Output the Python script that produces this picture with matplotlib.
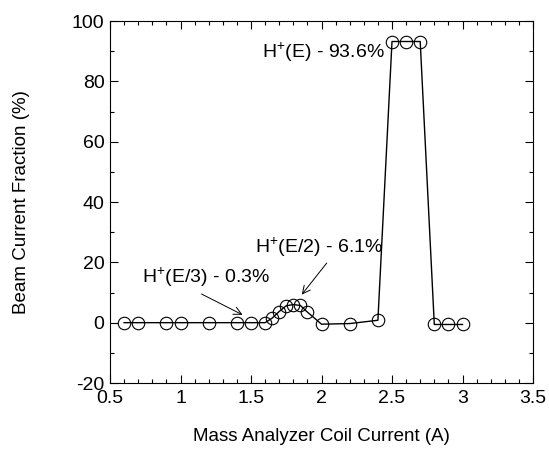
import numpy as np
import matplotlib
matplotlib.use("Agg")
from matplotlib import pyplot as plt
from matplotlib.ticker import MultipleLocator, FuncFormatter

plt.rcParams['font.family'] = ['Liberation Sans', 'DejaVu Sans']
plt.rcParams['mathtext.fontset'] = 'custom'
plt.rcParams['mathtext.rm'] = 'Liberation Sans'
plt.rcParams['axes.unicode_minus'] = False

# coil current (A) and beam current fraction (%)
coil_current = [0.6, 0.7, 0.9, 1.0, 1.2, 1.4, 1.5, 1.6, 1.65, 1.7, 1.75, 1.8,
                1.85, 1.9, 2.0, 2.2, 2.4, 2.5, 2.6, 2.7, 2.8, 2.9, 3.0]
fraction = [0, 0, 0, 0, 0, 0, 0, 0, 1.5, 3.7, 5.6, 6.0,
            5.7, 3.5, -0.5, -0.3, 0.8, 93.2, 93.2, 93.2, -0.6, -0.6, -0.6]

labels = [r'H$\mathregular{^{+}}$(E) - 93.6%',
          r'H$\mathregular{^{+}}$(E/2) - 6.1%',
          r'H$\mathregular{^{+}}$(E/3) - 0.3%']

fig = plt.figure(figsize=(5.49, 4.51), dpi=100)
ax = fig.add_axes([110/549, 1 - 383/451, 423/549, 362/451])

ax.plot(coil_current, fraction, color='black', lw=1.0, marker='o',
        markersize=9, markerfacecolor='none', markeredgecolor='black',
        markeredgewidth=0.8)

ax.set_xlim(0.5, 3.5)
ax.set_ylim(-20, 100)
ax.xaxis.set_major_locator(MultipleLocator(0.5))
ax.xaxis.set_minor_locator(MultipleLocator(0.1))
ax.yaxis.set_major_locator(MultipleLocator(20))
ax.yaxis.set_minor_locator(MultipleLocator(10))
fmt = FuncFormatter(lambda v, p: '%g' % v)
ax.xaxis.set_major_formatter(fmt)
ax.yaxis.set_major_formatter(fmt)
ax.tick_params(which='both', direction='in', top=True, right=True,
               labelsize=14, width=0.8)
ax.tick_params(which='major', length=6)
ax.tick_params(which='minor', length=3)
ax.tick_params(axis='x', pad=5)
ax.tick_params(axis='y', pad=4)
for s in ax.spines.values():
    s.set_linewidth(0.8)

ax.set_xlabel('Mass Analyzer Coil Current (A)', fontsize=13.5)
ax.set_ylabel('Beam Current Fraction (%)', fontsize=13.5)
ax.xaxis.set_label_coords(0.5, -0.125)
ax.yaxis.set_label_coords(-0.19, 0.5)

ax.text(2.45, 89.5, labels[0], fontsize=14, ha='right', va='center')
ax.annotate(labels[1], xy=(1.86, 9.3), xytext=(2.44, 24.9),
            fontsize=14, ha='right', va='center',
            arrowprops=dict(arrowstyle='->', color='black', lw=0.7,
                            shrinkA=1, shrinkB=0, relpos=(0.58, 0.0)))
ax.annotate(labels[2], xy=(1.44, 2.6), xytext=(0.73, 14.9),
            fontsize=14, ha='left', va='center',
            arrowprops=dict(arrowstyle='->', color='black', lw=0.7,
                            shrinkA=3, shrinkB=0, relpos=(0.39, 0.0)))

fig.savefig('out.png', dpi=100)
